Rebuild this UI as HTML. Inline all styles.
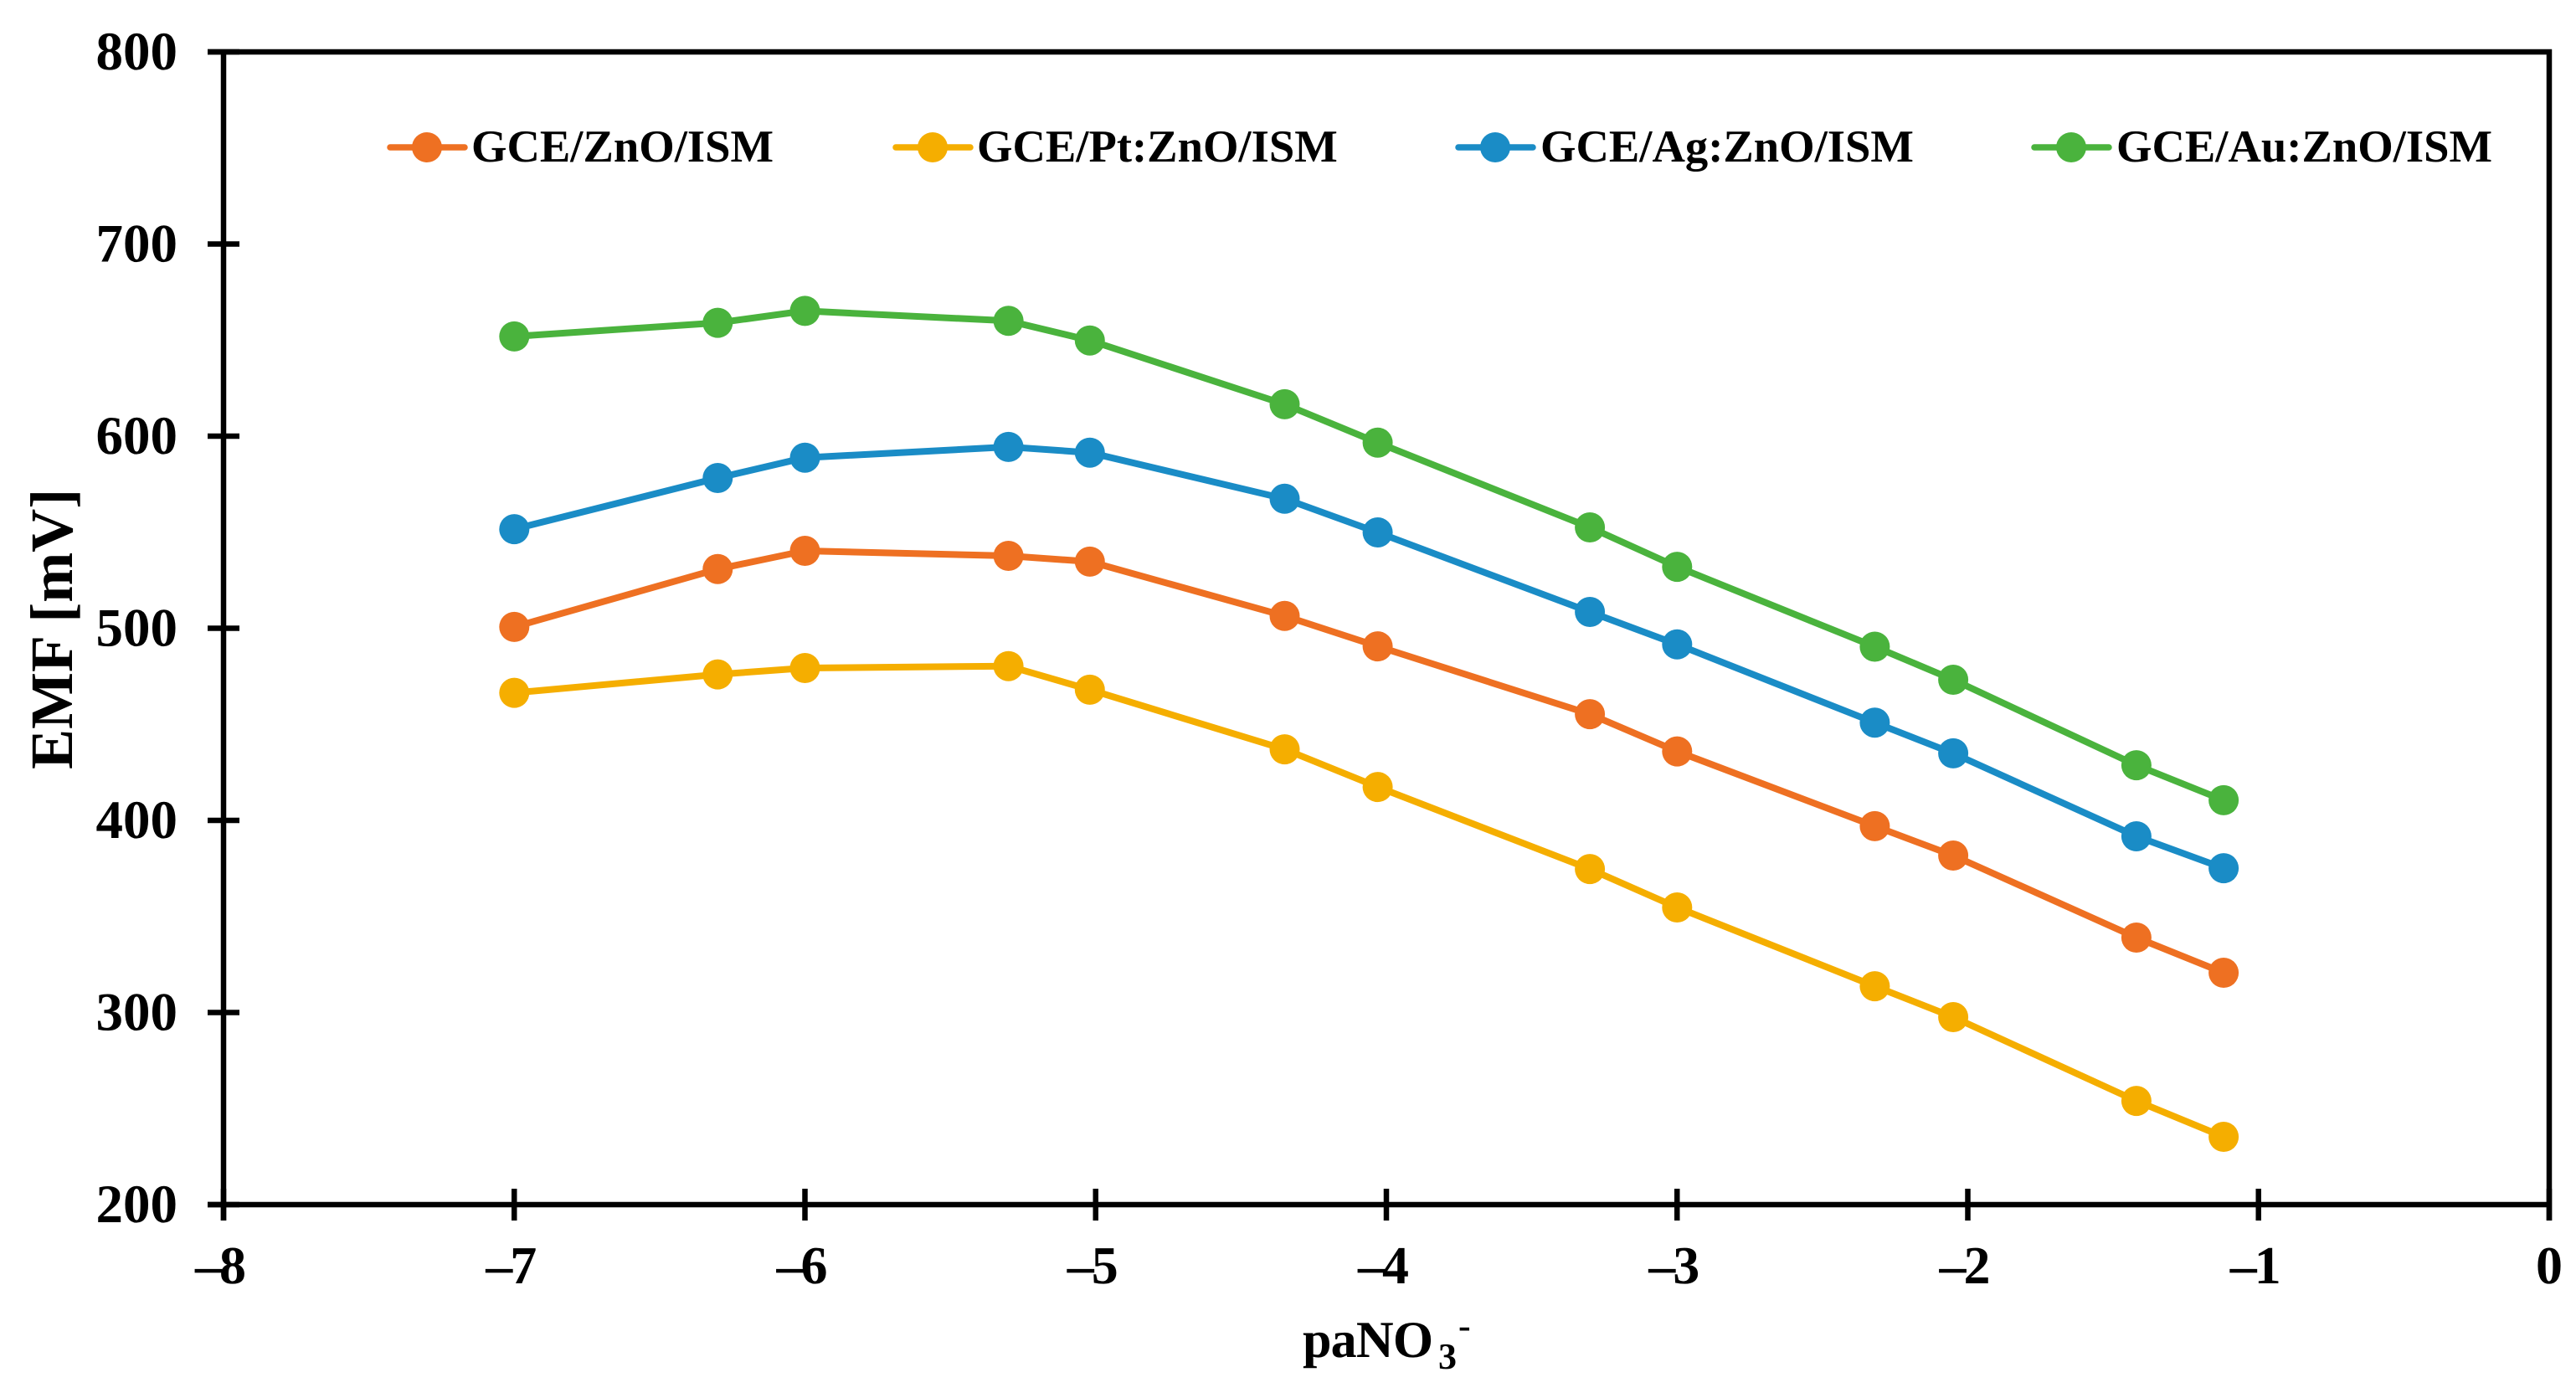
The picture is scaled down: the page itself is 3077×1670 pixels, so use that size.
<!DOCTYPE html>
<html lang="en">
<head>
<meta charset="utf-8">
<title>EMF vs paNO3- chart</title>
<style>
  html, body { margin: 0; padding: 0; background: #fff; }
  body { width: 3077px; height: 1670px; overflow: hidden; }
  svg { display: block; }
  text { font-family: "Liberation Serif", "Times New Roman", serif; font-weight: bold; fill: #000; text-rendering: geometricPrecision; }
</style>
</head>
<body>
<svg id="chart" xmlns="http://www.w3.org/2000/svg" width="3077" height="1670" viewBox="0 0 3077 1670">
  <rect x="0" y="0" width="3077" height="1670" fill="#ffffff"/>
  <g id="marks"></g>
  <g id="axes"></g>
  <g id="legend"></g>
  <text transform="translate(86,919) rotate(-90)" font-size="72">EMF [mV]</text>
  <text x="1556" y="1621" font-size="62" letter-spacing="-0.8">paNO<tspan x="1718" y="1635" font-size="44">3</tspan><tspan x="1742" y="1598" font-size="44">-</tspan></text>
</svg>
<script>
const xCategories = [-7, -6.3, -6, -5.3, -5.02, -4.35, -4.03, -3.3, -3, -2.32, -2.05, -1.42, -1.12];
const seriesZnO = [500.7, 530.8, 540.3, 537.7, 534.7, 506.4, 490.6, 455.3, 435.9, 397, 381.7, 339, 320.7];
const seriesPt = [466.4, 476, 479.3, 480.3, 468, 437, 417.4, 374.7, 354.7, 313.7, 297.6, 254, 235.3];
const seriesAg = [551.6, 578.2, 588.8, 594.4, 591.4, 567.4, 549.9, 508.5, 491.6, 450.9, 434.9, 391.7, 375.1];
const seriesAu = [651.9, 659, 665.2, 660, 649.8, 616.6, 596.6, 552.5, 532, 490.4, 473.2, 428.7, 410.5];
const xTicks = [-8, -7, -6, -5, -4, -3, -2, -1, 0];
const xTickLabels = ['\u20138', '\u20137', '\u20136', '\u20135', '\u20134', '\u20133', '\u20132', '\u20131', '0'];
const yTicks = [200, 300, 400, 500, 600, 700, 800];
const yTickLabels = ['200', '300', '400', '500', '600', '700', '800'];
const seriesNames = ['GCE/ZnO/ISM', 'GCE/Pt:ZnO/ISM', 'GCE/Ag:ZnO/ISM', 'GCE/Au:ZnO/ISM'];
const seriesSlugs = ['zno', 'pt-zno', 'ag-zno', 'au-zno'];
const seriesValues = [seriesZnO, seriesPt, seriesAg, seriesAu];

const NS = 'http://www.w3.org/2000/svg';
const colours = ['#EE7022', '#F5AE00', '#1A8CC6', '#4AB33D'];
const plot = { left: 267, right: 3045, top: 62, bottom: 1439, xMin: -8, xMax: 0, yMin: 200, yMax: 800 };
const xScale = v => plot.left + (v - plot.xMin) * (plot.right - plot.left) / (plot.xMax - plot.xMin);
const yScale = v => plot.bottom - (v - plot.yMin) * (plot.bottom - plot.top) / (plot.yMax - plot.yMin);

function make(tag, parent, attrs) {
  const el = document.createElementNS(NS, tag);
  Object.keys(attrs).forEach(k => el.setAttribute(k, attrs[k]));
  parent.appendChild(el);
  return el;
}

const marks = document.getElementById('marks');
seriesValues.forEach((vals, s) => {
  const g = make('g', marks, {});
  
  
  const pts = vals.map((v, i) => xScale(xCategories[i]).toFixed(1) + ',' + yScale(v).toFixed(1)).join(' ');
  const line = make('polyline', g, { points: pts, fill: 'none', stroke: colours[s], 'stroke-width': 8, 'stroke-linejoin': 'round', 'stroke-linecap': 'round' });
  
  
  vals.forEach((v, i) => {
    const c = make('circle', g, { cx: xScale(xCategories[i]).toFixed(1), cy: yScale(v).toFixed(1), r: 18, fill: colours[s] });
    
    
  });
});

const axes = document.getElementById('axes');
const tickLen = 19;
const axisStroke = { stroke: '#000', 'stroke-width': 6.5 };

const yAxisLine = make('line', axes, Object.assign({ x1: plot.left, x2: plot.left, y1: plot.top - 3, y2: plot.bottom + tickLen }, axisStroke));


const rightLine = make('line', axes, Object.assign({ x1: plot.right, x2: plot.right, y1: plot.top - 3, y2: plot.bottom + tickLen }, axisStroke));


const topLine = make('line', axes, Object.assign({ x1: plot.left - tickLen, x2: plot.right + 3, y1: plot.top, y2: plot.top }, axisStroke));


const xAxisLine = make('line', axes, Object.assign({ x1: plot.left - tickLen, x2: plot.right + 3, y1: plot.bottom, y2: plot.bottom }, axisStroke));



yTicks.forEach((v, i) => {
  const y = yScale(v);
  const t = make('line', axes, Object.assign({ x1: plot.left - tickLen, x2: plot.left + tickLen, y1: y, y2: y }, axisStroke));
  
  
  const l = make('text', axes, { x: 212, y: y + 21, 'text-anchor': 'end', 'font-size': 65 });
  
  
  l.textContent = yTickLabels[i];
});

xTicks.forEach((v, i) => {
  const x = xScale(v);
  const t = make('line', axes, Object.assign({ x1: x, x2: x, y1: plot.bottom - tickLen, y2: plot.bottom + tickLen }, axisStroke));
  
  
  const l = make('text', axes, { x: v === 0 ? x : x - 5, y: 1533, 'text-anchor': 'middle', 'font-size': 64, 'letter-spacing': v === 0 ? 0 : -3 });
  
  
  l.textContent = xTickLabels[i];
});

const legend = document.getElementById('legend');
const legendLineStart = [463, 1067, 1739, 2427];
const legendTextStart = [563, 1167, 1840, 2528];
seriesNames.forEach((name, s) => {
  const g = make('g', legend, {});
  
  
  const x0 = legendLineStart[s];
  const ln = make('line', g, { x1: x0 + 3, x2: x0 + 92, y1: 176, y2: 176, stroke: colours[s], 'stroke-width': 7.5, 'stroke-linecap': 'round' });
  
  
  const mk = make('circle', g, { cx: x0 + 47, cy: 176, r: 18, fill: colours[s] });
  
  
  const tx = make('text', g, { x: legendTextStart[s], y: 193, 'font-size': 54.6 });
  
  
  tx.textContent = name;
});
</script>
</body>
</html>
